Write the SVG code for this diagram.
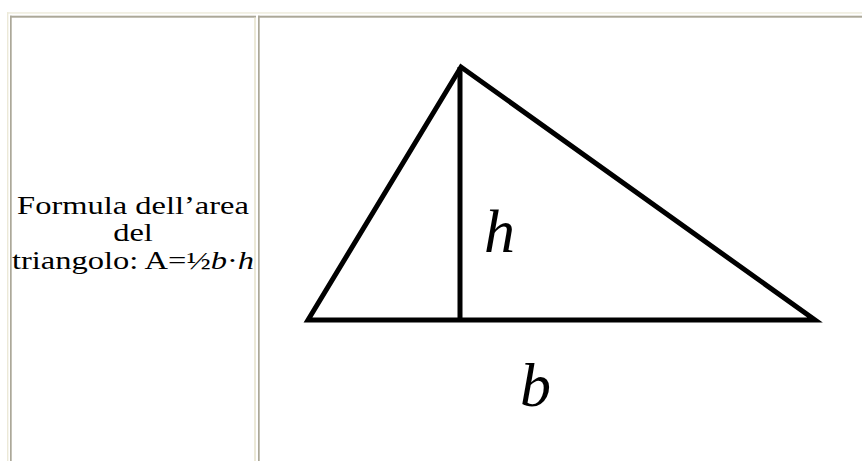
<svg xmlns="http://www.w3.org/2000/svg" width="862" height="461" viewBox="0 0 862 461">
<style>
.light{fill:#ECE9D8}
.dark{fill:#ACA899}
.cap{font-family:"Liberation Serif","Times New Roman",serif;font-size:25px;fill:#000}
.ln{stroke:#000;stroke-width:5;fill:none;stroke-linecap:butt;stroke-linejoin:miter}
.lbl{font-family:"Liberation Serif","Times New Roman",serif;font-style:italic;font-size:62px;fill:#000}
</style>
<rect width="862" height="461" fill="#fff"/>
<g id="table">
<rect class="light" x="7" y="12.3" width="855" height="1.3"/>
<rect class="light" x="7" y="12.3" width="1.4" height="449"/>
<rect class="dark" x="10" y="15.7" width="246" height="2"/>
<rect class="dark" x="10" y="15.7" width="1.7" height="446"/>
<rect class="light" x="254" y="17.7" width="2" height="444"/>
<rect class="dark" x="258" y="15.7" width="604" height="2"/>
<rect class="dark" x="258" y="15.7" width="1.7" height="446"/>
</g>
<g id="caption" transform="translate(133,0) scale(1.3,1)">
<text class="cap" x="0" y="214" text-anchor="middle">Formula dell’area</text>
<text class="cap" x="0" y="241.5" text-anchor="middle">del</text>
<text class="cap" x="0" y="269" text-anchor="middle">triangolo: A=½<tspan font-style="italic">b</tspan>·<tspan font-style="italic">h</tspan></text>
</g>
<g id="triangle">
<path class="ln" d="M308,320 L461,67 L815,320 Z"/>
<line class="ln" x1="460" y1="67" x2="460" y2="320"/>
<text class="lbl" x="484" y="252">h</text>
<text class="lbl" x="520" y="406">b</text>
</g>
</svg>
